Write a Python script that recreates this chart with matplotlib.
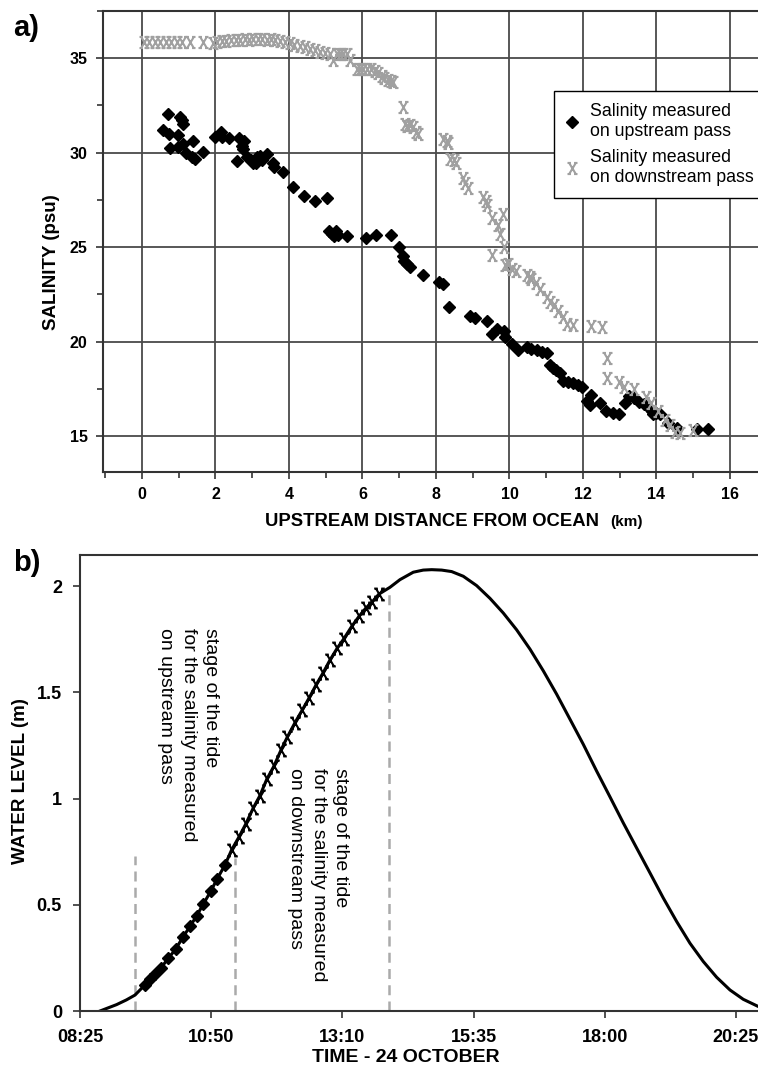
import matplotlib

matplotlib.use("Agg")

import matplotlib.pyplot as plt
from matplotlib.path import Path
from matplotlib.ticker import MultipleLocator, FixedLocator, FixedFormatter

plt.rcParams["font.family"] = ["Liberation Sans", "DejaVu Sans"]

# panel a: salinity vs. upstream distance (km, psu)
up_km = [0.56, 0.72, 0.73, 0.76, 0.99, 0.99, 1.03, 1.08, 1.12, 1.11, 1.20, 1.38, 1.35, 1.44,
         1.67, 1.99, 2.14, 2.17, 2.38, 2.58, 2.65, 2.71, 2.78, 2.76, 2.85, 2.98, 3.03, 3.10,
         3.12, 3.21, 3.26, 3.39, 3.56, 3.59, 3.83, 4.12, 4.41, 4.72, 5.04, 5.10, 5.16, 5.22,
         5.28, 5.34, 5.59, 6.11, 6.37, 6.79, 7.00, 7.09, 7.13, 7.20, 7.29, 7.64, 8.09, 8.20,
         8.36, 8.94, 9.06, 9.38, 9.52, 9.67, 9.85, 9.88, 10.06, 10.22, 10.47, 10.60, 10.74,
         10.88, 11.01, 11.10, 11.19, 11.28, 11.37, 11.45, 11.60, 11.74, 11.87, 11.98, 12.10,
         12.19, 12.22, 12.46, 12.64, 12.83, 12.99, 13.14, 13.26, 13.39, 13.53, 13.66, 13.78,
         13.87, 13.91, 14.00, 14.10, 14.32, 14.55, 15.11, 15.41]
up_sal = [31.19, 32.04, 30.98, 30.25, 30.93, 30.31, 31.90, 31.72, 31.51, 30.45, 29.96, 30.62,
          29.78, 29.66, 30.04, 30.85, 31.10, 30.84, 30.80, 29.55, 30.80, 30.33, 30.62, 30.22,
          29.76, 29.64, 29.43, 29.46, 29.75, 29.82, 29.60, 29.94, 29.43, 29.25, 28.98, 28.16,
          27.70, 27.45, 27.58, 25.86, 25.72, 25.58, 25.86, 25.63, 25.60, 25.51, 25.67, 25.67,
          25.02, 24.52, 24.28, 24.10, 23.93, 23.52, 23.16, 23.04, 21.84, 21.35, 21.23, 21.08,
          20.40, 20.65, 20.57, 20.22, 19.90, 19.55, 19.69, 19.59, 19.55, 19.46, 19.38, 18.76,
          18.63, 18.49, 18.35, 17.93, 17.87, 17.82, 17.70, 17.58, 16.87, 16.64, 17.17, 16.76,
          16.34, 16.23, 16.16, 16.73, 17.12, 17.00, 16.82, 16.69, 16.55, 16.34, 16.16, 16.23,
          16.16, 15.70, 15.41, 15.37, 15.37]

dn_km = [0.05, 0.20, 0.35, 0.50, 0.65, 0.80, 0.95, 1.10, 1.30, 1.65,
         1.94, 2.05, 2.18, 2.30, 2.42, 2.55, 2.67, 2.80, 2.92, 3.03, 3.15, 3.28, 3.39, 3.50,
         3.62, 3.76, 3.90, 4.03, 4.15, 4.30, 4.43, 4.57, 4.70, 4.84, 4.97, 5.12, 5.21, 5.30,
         5.39, 5.48, 5.57, 5.66, 5.84, 5.93, 6.02, 6.12, 6.22, 6.35, 6.43, 6.52, 6.60, 6.70,
         6.78, 6.84, 7.11, 7.16, 7.22, 7.30, 7.38, 7.45, 7.52, 8.20, 8.30, 8.34, 8.38, 8.50,
         8.54, 8.73, 8.80, 8.88, 9.29, 9.35, 9.40, 9.52, 9.70, 9.73, 9.82, 9.85, 9.52, 9.88,
         9.95, 10.06, 10.18, 10.47, 10.55, 10.60, 10.72, 10.83, 11.01, 11.10, 11.21, 11.33,
         11.45, 11.57, 11.72, 12.21, 12.51, 12.66, 12.66, 12.99, 13.12, 13.39, 13.71, 13.84,
         14.05, 14.23, 14.37, 14.50, 14.64, 15.00]
dn_sal = [35.85, 35.86, 35.84, 35.86, 35.85, 35.84, 35.86, 35.85, 35.84, 35.85,
          35.78, 35.85, 35.90, 35.92, 35.95, 35.97, 35.99, 36.00, 35.98, 36.00, 36.02, 36.00,
          35.99, 36.00, 35.96, 35.92, 35.85, 35.78, 35.72, 35.65, 35.58, 35.51, 35.42, 35.33,
          35.30, 35.25, 34.89, 35.20, 35.21, 35.20, 35.25, 34.93, 34.42, 34.45, 34.45, 34.45,
          34.45, 34.30, 34.20, 34.05, 33.95, 33.84, 33.78, 33.72, 32.40, 31.54, 31.40, 31.45,
          31.37, 31.10, 30.98, 30.75, 30.60, 30.52, 29.69, 29.60, 29.46, 28.64, 28.40, 28.11,
          27.63, 27.45, 27.22, 26.52, 26.16, 25.72, 26.78, 25.02, 24.60, 24.05, 24.10, 23.87,
          23.75, 23.52, 23.40, 23.29, 23.08, 22.76, 22.34, 22.11, 21.93, 21.63, 21.28, 20.93,
          20.87, 20.82, 20.78, 19.11, 18.05, 17.87, 17.61, 17.47, 17.08, 16.73, 16.34, 15.85,
          15.58, 15.23, 15.17, 15.32]

# panel b: water level (m) vs. time of day (decimal hours)
rise_time_h = [8.785, 9.090, 9.270, 9.430]
rise_level_m = [0.0, 0.030, 0.052, 0.075]
up_time_h = [9.614, 9.706, 9.798, 9.903, 10.043, 10.179, 10.308, 10.443, 10.566, 10.688,
             10.824, 10.946, 11.087]
up_level_m = [0.123, 0.149, 0.174, 0.201, 0.248, 0.291, 0.346, 0.398, 0.448, 0.503, 0.563,
              0.623, 0.687]
dn_time_h = [11.211, 11.345, 11.474, 11.609, 11.732, 11.856, 11.990, 12.119, 12.235, 12.377,
             12.512, 12.641, 12.764, 12.898, 13.022, 13.156, 13.280, 13.422, 13.556, 13.679,
             13.801, 13.924]
dn_level_m = [0.759, 0.819, 0.882, 0.956, 1.014, 1.090, 1.153, 1.228, 1.289, 1.357, 1.417,
              1.475, 1.534, 1.593, 1.652, 1.708, 1.753, 1.810, 1.857, 1.895, 1.926, 1.962]
fall_time_h = [14.127, 14.311, 14.556, 14.740, 14.895, 15.079, 15.263, 15.477, 15.723, 15.969,
               16.214, 16.460, 16.706, 16.951, 17.197, 17.443, 17.688, 17.934, 18.179, 18.425,
               18.671, 18.916, 19.161, 19.408, 19.653, 19.898, 20.144, 20.390, 20.635, 20.905,
               21.000]
fall_level_m = [1.994, 2.030, 2.065, 2.075, 2.077, 2.075, 2.068, 2.046, 2.002, 1.942, 1.873,
                1.794, 1.703, 1.601, 1.491, 1.373, 1.255, 1.129, 1.008, 0.885, 0.767, 0.650,
                0.532, 0.421, 0.319, 0.233, 0.159, 0.099, 0.055, 0.022, 0.012]

stage_time_h = [9.430, 11.272, 14.110]
stage_top_m = [0.73, 0.72, 1.98]

time_ticks_h = [8.4167, 10.8333, 13.25, 15.6667, 18.0833, 20.5]
time_labels = ["08:25", "10:50", "13:10", "15:35", "18:00", "20:25"]

GRID = "#4a4a4a"
SPINE = "#333333"
GREY_MARK = "#a0a0a0"

# x with small serifs at its four ends
serif_x = Path(
    [(-0.6, -1), (0.6, 1), (-0.6, 1), (0.6, -1),
     (-0.9, 1), (-0.3, 1), (0.3, 1), (0.9, 1),
     (-0.9, -1), (-0.3, -1), (0.3, -1), (0.9, -1)],
    [Path.MOVETO, Path.LINETO] * 6,
)

fig = plt.figure(figsize=(7.58, 10.69), dpi=100)

# ---- panel a
ax = fig.add_axes([103 / 758, 1 - 472 / 1069, 1 - 103 / 758 + 0.01, (472 - 11) / 1069])
ax.set_xlim(-1.06, 16.97)
ax.set_ylim(13.1, 37.5)
ax.xaxis.set_major_locator(MultipleLocator(2))
ax.xaxis.set_minor_locator(MultipleLocator(1))
ax.yaxis.set_major_locator(MultipleLocator(5))
ax.yaxis.set_minor_locator(MultipleLocator(2.5))
ax.grid(True, which="major", color=GRID, linewidth=1.3)
ax.set_axisbelow(True)
for side in ("left", "bottom", "top"):
    ax.spines[side].set_color(SPINE)
    ax.spines[side].set_linewidth(1.5)
ax.spines["right"].set_visible(False)
ax.tick_params(which="both", direction="out", color=SPINE, width=1.2)
ax.tick_params(which="major", length=5, labelsize=11.5, pad=6)
ax.tick_params(which="minor", length=4)
for lab in ax.get_xticklabels() + ax.get_yticklabels():
    lab.set_fontweight("bold")

ax.plot(up_km, up_sal, linestyle="none", marker="D", markersize=6, color="black",
        label="Salinity measured\non upstream pass", zorder=3)
ax.plot(dn_km, dn_sal, linestyle="none", marker=serif_x, markersize=8, markerfacecolor="none",
        markeredgecolor=GREY_MARK, markeredgewidth=1.5,
        label="Salinity measured\non downstream pass", zorder=3)

leg = ax.legend(loc="upper left", bbox_to_anchor=(554 / 758, 1 - 91 / 1069),
                bbox_transform=fig.transFigure, fontsize=12.8, frameon=True, fancybox=False,
                edgecolor="black", framealpha=1, handlelength=0.6, handletextpad=0.7,
                borderpad=0.7, labelspacing=0.5, borderaxespad=0)
leg.get_frame().set_linewidth(1.0)

fig.text(13 / 758, 1 - 28 / 1069, "a)", fontsize=21, fontweight="bold", va="center", ha="left")
fig.text(51 / 758, 1 - 262 / 1069, "SALINITY (psu)", rotation=90, fontsize=13.5,
         fontweight="bold", ha="center", va="center")
fig.text(265 / 758, 1 - 522 / 1069, "UPSTREAM DISTANCE FROM OCEAN", fontsize=13.3,
         fontweight="bold", ha="left", va="center")
fig.text(610 / 758, 1 - 522 / 1069, "(km)", fontsize=11, fontweight="bold", ha="left",
         va="center")

# ---- panel b
bx = fig.add_axes([80 / 758, 1 - 1011 / 1069, 1 - 80 / 758 + 0.01, (1011 - 555) / 1069])
bx.set_xlim(8.4167, 21.046)
bx.set_ylim(0, 2.146)
bx.xaxis.set_major_locator(FixedLocator(time_ticks_h))
bx.xaxis.set_major_formatter(FixedFormatter(time_labels))
bx.yaxis.set_major_locator(FixedLocator([0, 0.5, 1, 1.5, 2]))
bx.yaxis.set_major_formatter(FixedFormatter(["0", "0.5", "1", "1.5", "2"]))
for side in ("left", "bottom", "top"):
    bx.spines[side].set_color(SPINE)
    bx.spines[side].set_linewidth(1.5)
bx.spines["right"].set_visible(False)
bx.tick_params(direction="out", color=SPINE, width=1.2, length=5, labelsize=13, pad=8)
for lab in bx.get_xticklabels() + bx.get_yticklabels():
    lab.set_fontweight("bold")

curve_t = rise_time_h + up_time_h + dn_time_h + fall_time_h
curve_l = rise_level_m + up_level_m + dn_level_m + fall_level_m
bx.plot(curve_t, curve_l, color="black", linewidth=2.2, zorder=2, solid_joinstyle="round")
bx.plot(up_time_h, up_level_m, linestyle="none", marker="D", markersize=6, color="black",
        zorder=3)
bx.plot(dn_time_h, dn_level_m, linestyle="none", marker=serif_x, markersize=8.5,
        markerfacecolor="none", markeredgecolor="black", markeredgewidth=1.5, zorder=3)

for t, top in zip(stage_time_h, stage_top_m):
    bx.plot([t, t], [0, top], color="#aaaaaa", linewidth=1.8, linestyle=(0, (4, 2.5)), zorder=1)

bx.text(188 / 758, 1 - 628 / 1069,
        "stage of the tide\nfor the salinity measured\non upstream pass",
        transform=fig.transFigure, rotation=270, fontsize=14, ha="center", va="top",
        multialignment="left", linespacing=1.4)
bx.text(318 / 758, 1 - 768 / 1069,
        "stage of the tide\nfor the salinity measured\non downstream pass",
        transform=fig.transFigure, rotation=270, fontsize=14, ha="center", va="top",
        multialignment="left", linespacing=1.4)

fig.text(13 / 758, 1 - 563 / 1069, "b)", fontsize=21, fontweight="bold", va="center", ha="left")
fig.text(21 / 758, 1 - 781 / 1069, "WATER LEVEL (m)", rotation=90, fontsize=13.5,
         fontweight="bold", ha="center", va="center")
fig.text(406 / 758, 1 - 1057 / 1069, "TIME - 24 OCTOBER", fontsize=14, fontweight="bold",
         ha="center", va="center")

fig.savefig("out.png", dpi=100)
